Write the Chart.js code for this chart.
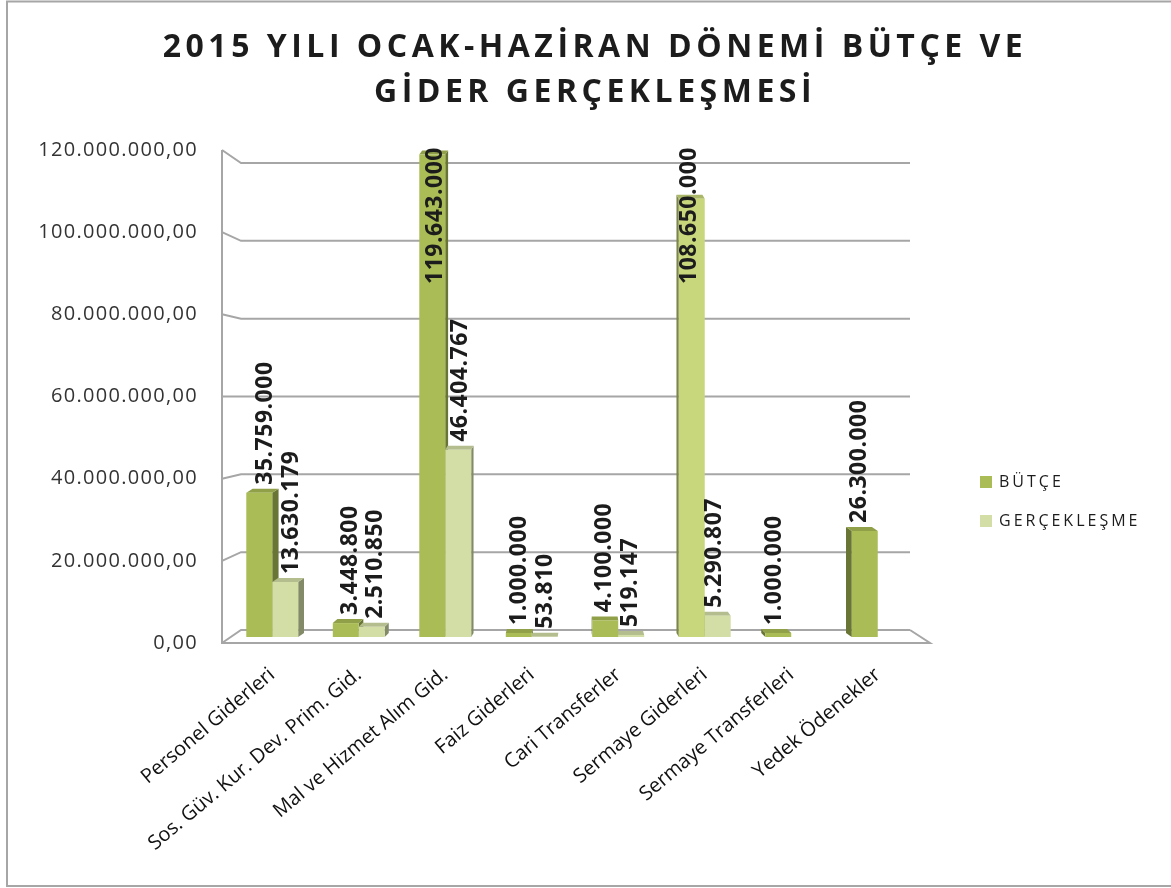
<!DOCTYPE html>
<html lang="tr">
<head>
<meta charset="utf-8">
<title>2015 Yılı Ocak-Haziran Dönemi Bütçe ve Gider Gerçekleşmesi</title>
<script src="https://cdn.jsdelivr.net/npm/chart.js@4.4.1/dist/chart.umd.min.js"></script>
<style>
    html, body { margin: 0; padding: 0; background: #fff; }
    #wrap { width: 1171px; height: 888px; position: relative; overflow: hidden; }
</style>
</head>
<body>
<div id="wrap"><canvas id="budgetChart" width="1171" height="888"></canvas></div>
<script>
const categories = [
    'Personel Giderleri',
    'Sos. Güv. Kur. Dev. Prim. Gid.',
    'Mal ve Hizmet Alım Gid.',
    'Faiz Giderleri',
    'Cari Transferler',
    'Sermaye Giderleri',
    'Sermaye Transferleri',
    'Yedek Ödenekler'
];
const butceValues = [35759000, 3448800, 119643000, 1000000, 4100000, 108650000, 1000000, 26300000];
const gerceklesmeValues = [13630179, 2510850, 46404767, 53810, 519147, 5290807, null, null];
const yTickValues = [0, 20000000, 40000000, 60000000, 80000000, 100000000, 120000000];
const seriesNames = ['BÜTÇE', 'GERÇEKLEŞME'];
const titleLines = ['2015 YILI OCAK-HAZİRAN DÖNEMİ BÜTÇE VE', 'GİDER GERÇEKLEŞMESİ'];

const butceColor = '#a9bc55';
const butceHighlight = '#c8d77c';   // Sermaye Giderleri bar is lighter in the original
const gercColor = '#d3dea6';
const lineGray = '#a6a6a6';
const textDark = '#1c1c1c';

// 1.234.567 style
function fmt(v) {
    return String(Math.round(v)).replace(/\B(?=(\d{3})+(?!\d))/g, '.');
}

function shade(color, f) {
    const n = parseInt(color.slice(1), 16);
    const r = Math.round(((n >> 16) & 255) * f);
    const g = Math.round(((n >> 8) & 255) * f);
    const b = Math.round((n & 255) * f);
    return `rgb(${r},${g},${b})`;
}

// perspective offset of a bar's back face, by distance from plot centre
function depthOffset(chart, x) {
    const a = chart.chartArea;
    const vx = (a.left + a.right) / 2;
    return { dx: (vx - x) * 0.02, dy: 4 };
}

// front / back wall y for a value
function wallY(chart, v) {
    const a = chart.chartArea;
    const p = chart.scales.y.getPixelForValue(v);
    const frac = (a.bottom - p) / (a.bottom - a.top);
    const front = (a.bottom + 6) - frac * ((a.bottom + 6) - (a.top - 3));
    const back = (a.bottom - 7) - frac * ((a.bottom - 7) - (a.top + 10));
    return { front, back };
}

const wallsAndDepth = {
    id: 'wallsAndDepth',
    beforeDatasetsDraw(chart) {
        const ctx = chart.ctx;
        const a = chart.chartArea;
        const fl = a.left - 7, bl = a.left + 12, br = a.right - 11, fr = a.right + 9;
        ctx.save();
        ctx.strokeStyle = lineGray;
        ctx.lineWidth = 2;
        ctx.lineJoin = 'miter';

        // back wall grid with slanted side-wall ticks
        yTickValues.forEach(v => {
            const w = wallY(chart, v);
            ctx.beginPath();
            ctx.moveTo(fl, w.front);
            ctx.lineTo(bl, w.back);
            ctx.lineTo(br, w.back);
            ctx.stroke();
        });

        // vertical axis + floor
        const top = wallY(chart, yTickValues[yTickValues.length - 1]);
        const zero = wallY(chart, 0);
        ctx.beginPath();
        ctx.moveTo(fl, top.front);
        ctx.lineTo(fl, zero.front);
        ctx.lineTo(fr, zero.front);
        ctx.lineTo(br, zero.back);
        ctx.stroke();

        // side and top faces of the bars
        chart.data.datasets.forEach((ds, di) => {
            const meta = chart.getDatasetMeta(di);
            meta.data.forEach((el, i) => {
                if (ds.data[i] == null) return;
                const p = el.getProps(['x', 'y', 'base', 'width'], true);
                const left = p.x - p.width / 2, right = p.x + p.width / 2;
                const { dx, dy } = depthOffset(chart, p.x);
                const col = Array.isArray(ds.backgroundColor) ? ds.backgroundColor[i] : ds.backgroundColor;
                const sx = dx >= 0 ? right : left;
                ctx.fillStyle = shade(col, 0.62);
                ctx.beginPath();
                ctx.moveTo(sx, p.y);
                ctx.lineTo(sx + dx, p.y - dy);
                ctx.lineTo(sx + dx, p.base - dy);
                ctx.lineTo(sx, p.base);
                ctx.closePath();
                ctx.fill();
                ctx.fillStyle = shade(col, 0.85);
                ctx.beginPath();
                ctx.moveTo(left, p.y);
                ctx.lineTo(right, p.y);
                ctx.lineTo(right + dx, p.y - dy);
                ctx.lineTo(left + dx, p.y - dy);
                ctx.closePath();
                ctx.fill();
            });
        });
        ctx.restore();
    },
    afterDatasetsDraw(chart) {
        const ctx = chart.ctx;
        const a = chart.chartArea;
        ctx.save();
        ctx.font = 'bold 23px "Open Sans"';
        ctx.fillStyle = textDark;
        ctx.letterSpacing = '0.5px';
        ctx.textAlign = 'left';
        ctx.textBaseline = 'middle';
        chart.data.datasets.forEach((ds, di) => {
            const meta = chart.getDatasetMeta(di);
            meta.data.forEach((el, i) => {
                const v = ds.data[i];
                if (v == null) return;
                const p = el.getProps(['x', 'y'], true);
                const { dx } = depthOffset(chart, p.x);
                const txt = fmt(v);
                const w = ctx.measureText(txt).width;
                let start = p.y - 8;
                if (start - w < a.top - 6) start = a.top - 6 + w;
                ctx.save();
                ctx.translate(p.x + dx, start);
                ctx.rotate(-Math.PI / 2);
                ctx.fillText(txt, 0, 0);
                ctx.restore();
            });
        });
        ctx.restore();
    },
    afterDraw(chart) {
        const ctx = chart.ctx;
        ctx.save();

        // outer frame
        ctx.strokeStyle = lineGray;
        ctx.lineWidth = 2;
        ctx.strokeRect(7, 1.5, 1180, 884.5);

        // title
        ctx.fillStyle = textDark;
        ctx.font = 'bold 32px "Open Sans"';
        ctx.letterSpacing = '4.5px';
        ctx.textAlign = 'center';
        ctx.textBaseline = 'middle';
        ctx.fillText(titleLines[0], 595, 48);
        ctx.fillText(titleLines[1], 595, 93);

        // y tick labels (front edge of the side wall)
        ctx.fillStyle = '#333';
        ctx.font = '20px "Open Sans"';
        ctx.letterSpacing = '1.3px';
        ctx.textAlign = 'right';
        yTickValues.forEach(v => {
            ctx.fillText(fmt(v) + ',00', 198, wallY(chart, v).front);
        });

        // legend
        ctx.font = '16px "Open Sans"';
        ctx.letterSpacing = '3px';
        ctx.textAlign = 'left';
        const legendY = [482, 521];
        chart.data.datasets.forEach((ds, di) => {
            ctx.fillStyle = di === 0 ? butceColor : gercColor;
            ctx.fillRect(980, legendY[di] - 6, 12, 12);
            ctx.fillStyle = textDark;
            ctx.fillText(ds.label, 999, legendY[di]);
        });
        ctx.restore();
    }
};

function buildChart() {
    const ctx = document.getElementById('budgetChart').getContext('2d');
    new Chart(ctx, {
        type: 'bar',
        data: {
            labels: categories,
            datasets: [
                {
                    label: seriesNames[0],
                    data: butceValues,
                    backgroundColor: butceValues.map((v, i) => i === 5 ? butceHighlight : butceColor),
                    borderWidth: 0,
                    categoryPercentage: 0.6,
                    barPercentage: 1.0
                },
                {
                    label: seriesNames[1],
                    data: gerceklesmeValues,
                    backgroundColor: gercColor,
                    borderWidth: 0,
                    categoryPercentage: 0.6,
                    barPercentage: 1.0
                }
            ]
        },
        options: {
            responsive: false,
            animation: false,
            layout: { padding: { left: 229, right: 250, top: 153, bottom: 0 } },
            plugins: {
                legend: { display: false },
                title: { display: false },
                tooltip: { enabled: false }
            },
            scales: {
                x: {
                    grid: { display: false, drawTicks: false },
                    border: { display: false },
                    ticks: {
                        color: '#111',
                        font: { family: 'Open Sans', size: 20 },
                        minRotation: 40,
                        maxRotation: 40,
                        autoSkip: false,
                        padding: 26
                    },
                    afterFit(scale) { scale.height = 251; }
                },
                y: {
                    display: false,
                    min: 0,
                    max: 120000000
                }
            }
        },
        plugins: [wallsAndDepth]
    });
}

Promise.all([
    document.fonts.load('20px "Open Sans"'),
    document.fonts.load('bold 23px "Open Sans"')
]).then(buildChart, buildChart);
</script>
</body>
</html>
